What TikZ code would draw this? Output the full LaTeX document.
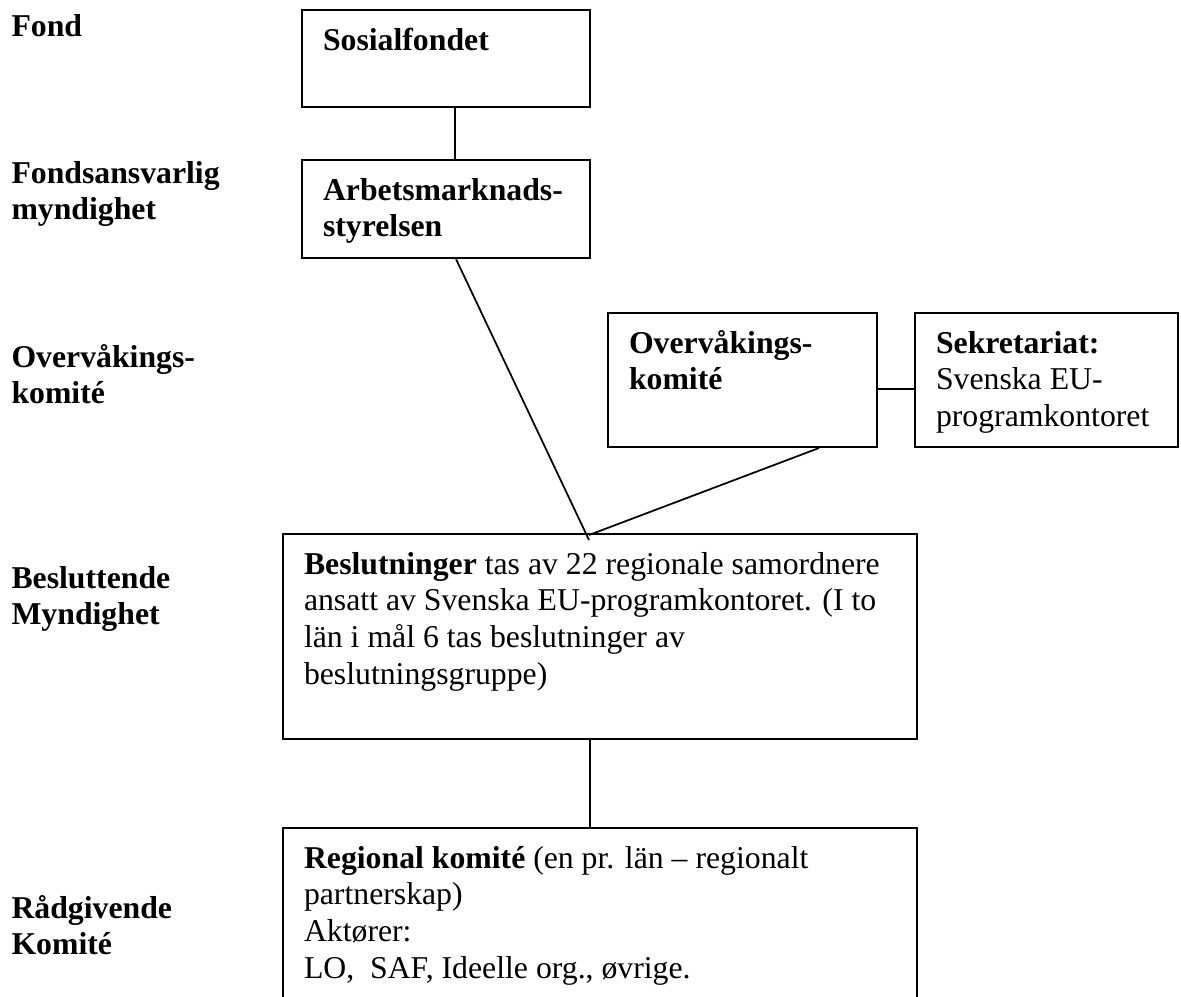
\documentclass[tikz,border=0pt]{standalone}
\usepackage{fontspec}
\setmainfont{Liberation Serif}
\usetikzlibrary{positioning}
\newcommand{\orgtext}[3]{\parbox[t][#2][t]{#1}{\raggedright\rule{0pt}{16pt}#3}}

\begin{document}
\begin{tikzpicture}[
  x=0.4pt, y=-0.4pt,
  orgbox/.style={draw, line width=0.8pt, anchor=north west,
    inner xsep=8.4pt, inner ysep=0pt, font=\fontsize{12.7}{14.7}\selectfont},
  levellabel/.style={anchor=base west, inner sep=0pt,
    font=\fontsize{12.7}{14.4}\selectfont\bfseries},
  link/.style={line width=0.7pt}
]
\useasboundingbox (0,0) rectangle (1181,996);

% nivaaer
\node[levellabel] (lfond) at (11,36) {\parbox[t]{150pt}{Fond}};
\node[levellabel] (lansv) at (11,183) {\parbox[t]{150pt}{Fondsansvarlig\\myndighet}};
\node[levellabel] (lovervak) at (11,367) {\parbox[t]{150pt}{Overvåkings-\\komité}};
\node[levellabel] (lbeslut) at (11,588) {\parbox[t]{150pt}{Besluttende\\Myndighet}};
\node[levellabel] (lraad) at (11,918) {\parbox[t]{150pt}{Rådgivende\\Komité}};

% bokser
\node[orgbox] (fond) at (301,9) {\orgtext{98.4pt}{38.8pt}{\textbf{Sosialfondet}}};
\node[orgbox] (arb) at (301,159) {\orgtext{98.4pt}{39.2pt}{\textbf{Arbetsmarknads-}\\\textbf{styrelsen}}};
\node[orgbox] (ov) at (607,312) {\orgtext{90.8pt}{53.6pt}{\textbf{Overvåkings-}\\\textbf{komité}}};
\node[orgbox] (sek) at (914,312) {\orgtext{88.4pt}{53.6pt}{\textbf{Sekretariat:}\\Svenska EU-\\programkontoret}};
\node[orgbox] (besl) at (282,533) {\orgtext{236.8pt}{82pt}{\textbf{Beslutninger} tas av 22 regionale samordnere\\ansatt av Svenska EU-programkontoret. (I to\\län i mål 6 tas beslutninger av\\beslutningsgruppe)}};
\node[orgbox] (reg) at (282,827) {\orgtext{236.8pt}{90pt}{\textbf{Regional komité} (en pr. län – regionalt\\partnerskap)\\Aktører:\\LO,\ \ SAF, Ideelle org., øvrige.}};

% linjer
\draw[link] ([xshift=3.6pt]fond.south) -- ([xshift=3.6pt]arb.north);
\draw[link] ([xshift=4pt]arb.south) -- ([xshift=-4.4pt,yshift=-2.8pt]besl.north);
\draw[link] ([xshift=30.6pt]ov.south) -- ([xshift=-4.4pt,yshift=-0.8pt]besl.north);
\draw[link] ([yshift=-3.6pt]ov.east) -- ([yshift=-3.6pt]sek.west);
\draw[link] ([xshift=-4pt]besl.south) -- ([xshift=-4pt]reg.north);
\end{tikzpicture}
\end{document}
